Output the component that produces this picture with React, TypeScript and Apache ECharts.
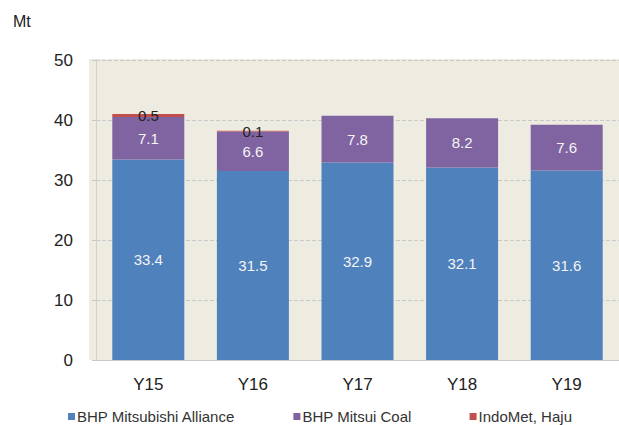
import React, { useEffect, useRef } from "react";
import * as echarts from "echarts";

const categories = ["Y15", "Y16", "Y17", "Y18", "Y19"];
const bhpMitsubishi = [33.4, 31.5, 32.9, 32.1, 31.6];
const bhpMitsui = [7.1, 6.6, 7.8, 8.2, 7.6];
const indoMet: (number | null)[] = [0.5, 0.1, null, null, null];
const yTicks = [0, 10, 20, 30, 40, 50];

const FONT = "'Liberation Sans', Arial, sans-serif";

export default function App() {
  const ref = useRef<HTMLDivElement>(null);
  useEffect(() => {
    if (!ref.current) return;
    const chart = echarts.init(ref.current, undefined, { renderer: "svg" });
    const whiteLabel = {
      show: true,
      position: "inside",
      color: "#f4f4f4",
      fontSize: 15,
      fontFamily: FONT,
    };
    chart.setOption({
      animation: false,
      backgroundColor: "#ffffff",
      textStyle: { fontFamily: FONT },
      graphic: [
        {
          type: "rect",
          z: -100,
          silent: true,
          shape: { x: 89, y: 59, width: 540, height: 301 },
          style: { fill: "#EEECE1" },
        },
        {
          type: "text",
          left: 13,
          top: 13,
          style: { text: "Mt", fontSize: 16, fontFamily: FONT, fill: "#222" },
        },
      ],
      legend: {
        left: 63,
        top: 404,
        itemWidth: 7,
        itemHeight: 7,
        itemGap: 58,
        icon: "rect",
        textStyle: { fontSize: 15, color: "#333", fontFamily: FONT, padding: [0, 0, 0, -3] },
        data: ["BHP Mitsubishi Alliance", "BHP Mitsui Coal", "IndoMet, Haju"],
      },
      grid: { left: 96, right: -12, top: 60, bottom: 65, containLabel: false },
      xAxis: {
        type: "category",
        data: categories,
        axisLine: { show: true, lineStyle: { color: "#c8c8c8", width: 1 } },
        axisTick: { show: false },
        axisLabel: { fontSize: 17, color: "#222", margin: 16, fontFamily: FONT },
      },
      yAxis: {
        type: "value",
        min: yTicks[0],
        max: yTicks[yTicks.length - 1],
        interval: 10,
        axisLine: { show: true, lineStyle: { color: "#d0d0d0", width: 1 } },
        axisTick: { show: true, length: 6, lineStyle: { color: "#c8c8c8", type: "dashed" } },
        splitLine: { show: true, lineStyle: { color: "#c8c8c8", type: "dashed", width: 1 } },
        axisLabel: { fontSize: 17, color: "#222", margin: 23, fontFamily: FONT },
      },
      series: [
        {
          name: "BHP Mitsubishi Alliance",
          type: "bar",
          stack: "total",
          barWidth: 72,
          data: bhpMitsubishi,
          itemStyle: { color: "#4F81BD" },
          label: { ...whiteLabel },
        },
        {
          name: "BHP Mitsui Coal",
          type: "bar",
          stack: "total",
          barWidth: 72,
          data: bhpMitsui,
          itemStyle: { color: "#8064A2" },
          label: { ...whiteLabel },
        },
        {
          name: "IndoMet, Haju",
          type: "bar",
          stack: "total",
          barWidth: 72,
          data: indoMet,
          itemStyle: { color: "#C0504D" },
          label: {
            show: true,
            position: "inside",
            color: "#222",
            fontSize: 15,
            fontFamily: FONT,
            formatter: (p: any) => (p.value == null ? "" : String(p.value)),
          },
        },
      ],
    });
    return () => chart.dispose();
  }, []);
  return <div ref={ref} style={{ width: 619, height: 425, position: "absolute", left: 0, top: 0 }} />;
}
